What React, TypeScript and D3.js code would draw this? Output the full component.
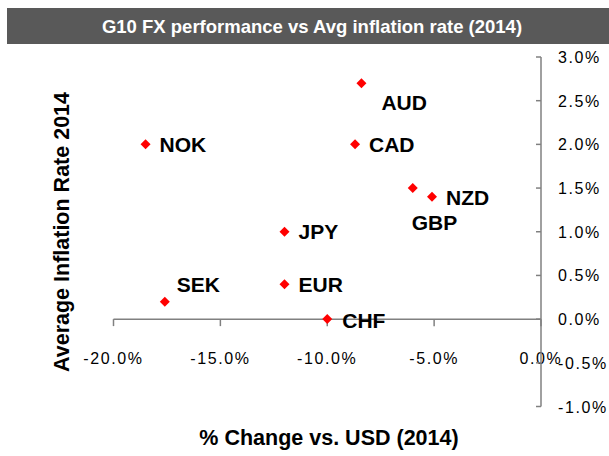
import React from 'react';
import * as d3 from 'd3';

// G10 currencies: % change vs USD and avg inflation (2014)
const currencies = ['NOK', 'SEK', 'JPY', 'EUR', 'CHF', 'AUD', 'CAD', 'GBP', 'NZD'];
const fxChange = [-18.5, -17.6, -12.0, -12.0, -10.0, -8.4, -8.7, -6.0, -5.1];
const inflation = [2.0, 0.2, 1.0, 0.4, 0.0, 2.7, 2.0, 1.5, 1.4];
// label offsets relative to the marker
const labelDx = [14, 12, 14, 14, 15, 20, 14, -1, 14];
const labelDy = [0, -17, 0, 0, 1, 19, 0, 34, 1];

const xTicks = [-20, -15, -10, -5, 0];
const yTicks = [-1, -0.5, 0, 0.5, 1, 1.5, 2, 2.5, 3];

const W = 609;
const H = 456;
const font = 'Liberation Sans, Arial, sans-serif';
const axisColor = '#808080';

export default function App() {
  const x = d3.scaleLinear().domain([-20, 0]).range([113.5, 541]);
  const y = d3.scaleLinear().domain([-1, 3]).range([406.5, 57]);
  const diamond = d3.symbol().type(d3.symbolSquare).size(50)();
  const fmt = (v: number) => v.toFixed(1) + '%';

  return (
    <svg width={W} height={H} style={{ position: 'absolute', left: 0, top: 0, fontFamily: font }}>
      <rect x={7} y={8} width={W - 7} height={36} fill="#595959" />
      <text x={312} y={32.5} textAnchor="middle" fill="#fff" fontWeight="bold" fontSize={18.5}>
        G10 FX performance vs Avg inflation rate (2014)
      </text>

      {/* x axis */}
      <line x1={x(-20)} x2={x(0)} y1={y(0)} y2={y(0)} stroke={axisColor} strokeWidth={1.5} />
      {xTicks.map((t) => (
        <g key={'x' + t}>
          <line x1={x(t)} x2={x(t)} y1={y(0)} y2={y(0) + 7} stroke={axisColor} strokeWidth={1.5} />
          <text x={x(t)} y={364} textAnchor="middle" fontSize={16} letterSpacing={1.6}>
            {fmt(t)}
          </text>
        </g>
      ))}

      {/* y axis */}
      <line x1={x(0)} x2={x(0)} y1={y(3)} y2={y(-1)} stroke={axisColor} strokeWidth={1.5} />
      {yTicks.map((t) => (
        <g key={'y' + t}>
          <line x1={x(0) - 5} x2={x(0)} y1={y(t)} y2={y(t)} stroke={axisColor} strokeWidth={1.5} />
          <text x={558} y={y(t) + 6} fontSize={16} letterSpacing={1.6}>
            {fmt(t)}
          </text>
        </g>
      ))}

      {/* points */}
      {currencies.map((c, i) => (
        <g key={c}>
          <path
            d={diamond}
            transform={`translate(${x(fxChange[i])},${y(inflation[i])}) rotate(45)`}
            fill="#ff0000"
          />
          <text
            x={x(fxChange[i]) + labelDx[i]}
            y={y(inflation[i]) + labelDy[i] + 7.5}
            fontSize={21}
            fontWeight="bold"
          >
            {c}
          </text>
        </g>
      ))}

      <text x={329} y={445} textAnchor="middle" fontSize={21.5} fontWeight="bold">
        % Change vs. USD (2014)
      </text>
      <text
        transform={`translate(69,232) rotate(-90)`}
        textAnchor="middle"
        fontSize={21.5}
        fontWeight="bold"
      >
        Average Inflation Rate 2014
      </text>
    </svg>
  );
}
